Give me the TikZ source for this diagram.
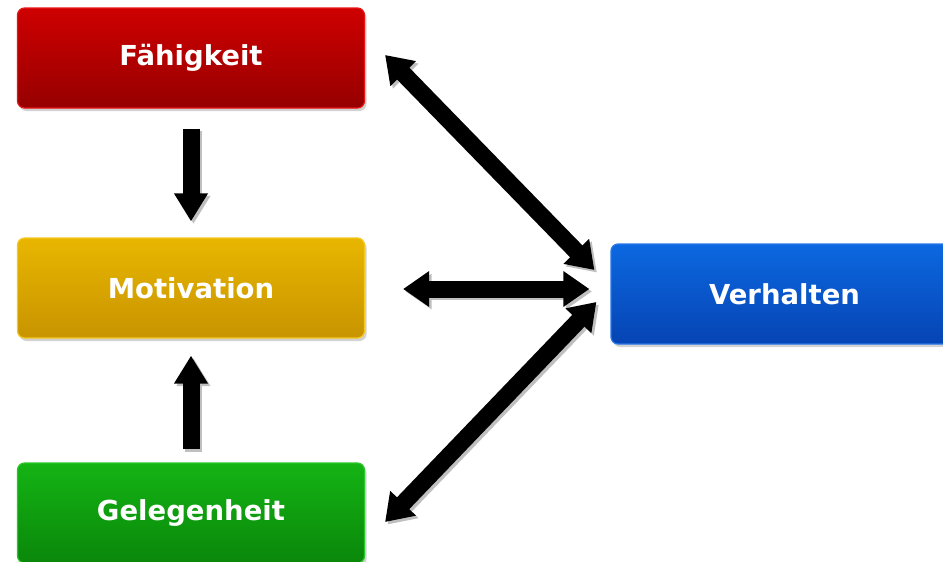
\documentclass[tikz,border=0pt]{standalone}
\usepackage{fontspec}
\setmainfont{DejaVu Sans}
\usetikzlibrary{arrows.meta,calc,positioning,shadows}
\definecolor{redtop}{RGB}{206,0,0}
\definecolor{redbot}{RGB}{150,0,0}
\definecolor{redrim}{RGB}{235,20,20}
\definecolor{yeltop}{RGB}{232,182,0}
\definecolor{yelbot}{RGB}{200,148,0}
\definecolor{yelrim}{RGB}{245,200,30}
\definecolor{grntop}{RGB}{20,180,20}
\definecolor{grnbot}{RGB}{10,135,10}
\definecolor{grnrim}{RGB}{40,200,40}
\definecolor{blutop}{RGB}{12,104,224}
\definecolor{blubot}{RGB}{6,68,180}
\definecolor{blurim}{RGB}{40,120,235}

\begin{document}
\begin{tikzpicture}[x=1pt,y=-1pt,
  box/.style={rounded corners=7pt,minimum width=347pt,minimum height=100pt,
    text=white,font=\bfseries\fontsize{27.5}{30}\selectfont,line width=1.2pt,
    drop shadow={shadow xshift=2pt,shadow yshift=-3pt,opacity=0.35}},
  blockarrow/.style={line width=17pt,draw=black},
  shade/.style={preaction={draw=black!25,transform canvas={xshift=2.5pt,yshift=-2.5pt}}},
  tipend/.style={shade,-{Triangle[width=32pt,length=28pt]}},
  tipboth/.style={shade,{Triangle[width=34pt,length=26pt]}-{Triangle[width=34pt,length=26pt]}}]
\clip (0,0) rectangle (943,562);
\fill[white] (0,0) rectangle (943,562);
\node[box,top color=redtop,bottom color=redbot,draw=redrim] (fae) at (191,58) {Fähigkeit};
\node[box,top color=yeltop,bottom color=yelbot,draw=yelrim] (mot) at (191,288) {Motivation};
\node[box,top color=grntop,bottom color=grnbot,draw=grnrim] (geleg) at (191,513) {Gelegenheit};
\node[box,top color=blutop,bottom color=blubot,draw=blurim] (verh) at (784.5,294) {Verhalten};
\path[blockarrow]
(fae.south) edge [tipend,shorten <=20pt,shorten >=16pt] (mot.north)
(geleg.north) edge [tipend,shorten <=13pt,shorten >=17pt] (mot.south)
($(fae.east)+(20,-3)$) edge [tipboth] ($(verh.west)+(-16,-24)$)
($(mot.east)+(38,1)$) edge [tipboth] ($(verh.west)+(-21,-5)$)
($(geleg.east)+(20,9)$) edge [tipboth] ($(verh.west)+(-14,8)$);
\end{tikzpicture}
\end{document}
